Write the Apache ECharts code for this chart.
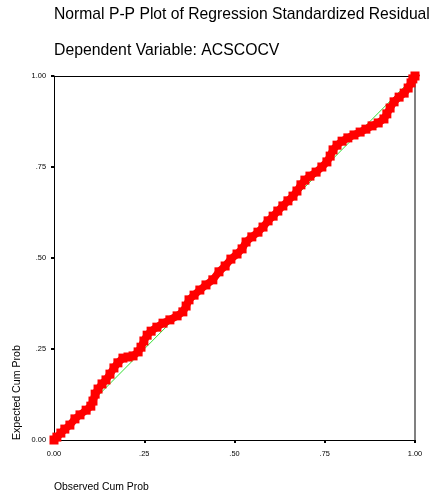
<!DOCTYPE html>
<html>
<head>
<meta charset="utf-8">
<style>
  html, body { margin: 0; padding: 0; background: #fff; }
  #chart { width: 432px; height: 495px; }
</style>
<script src="https://cdn.jsdelivr.net/npm/echarts@6/dist/echarts.min.js"></script>
</head>
<body>
<div id="chart"></div>
<script>
// Observed cumulative probability (x) and expected cumulative probability (y)
var observedCumProb = [0.000,0.008,0.019,0.030,0.044,0.058,0.072,0.089,0.102,0.108,0.114,0.122,0.133,0.144,0.155,0.166,0.177,0.191,0.205,0.219,0.233,0.241,0.249,0.258,0.269,0.285,0.302,0.321,0.341,0.357,0.366,0.374,0.388,0.404,0.421,0.440,0.457,0.474,0.490,0.507,0.521,0.532,0.548,0.565,0.579,0.593,0.607,0.620,0.634,0.648,0.662,0.673,0.684,0.695,0.709,0.726,0.742,0.756,0.765,0.773,0.784,0.798,0.814,0.831,0.848,0.864,0.881,0.898,0.914,0.922,0.931,0.942,0.956,0.970,0.981,0.989,0.994,1.000];
var expectedCumProb = [0.000,0.008,0.019,0.030,0.041,0.058,0.069,0.082,0.093,0.107,0.126,0.140,0.154,0.165,0.181,0.198,0.212,0.225,0.228,0.231,0.242,0.255,0.272,0.288,0.299,0.310,0.321,0.330,0.341,0.352,0.368,0.385,0.398,0.412,0.426,0.440,0.462,0.478,0.497,0.511,0.525,0.544,0.558,0.571,0.585,0.602,0.615,0.629,0.643,0.657,0.670,0.684,0.701,0.714,0.725,0.736,0.750,0.764,0.780,0.797,0.810,0.821,0.830,0.838,0.846,0.854,0.863,0.871,0.882,0.896,0.912,0.929,0.942,0.953,0.967,0.981,0.992,1.000];
var referenceLine = [[0, 0], [1, 1]];
var tickLabels = ['0.00', '.25', '.50', '.75', '1.00'];

var FONT = 'Liberation Sans, Arial, Helvetica, sans-serif';
var points = observedCumProb.map(function (x, i) { return [x, expectedCumProb[i]]; });
function fmt(v) { return tickLabels[Math.round(v * 4)]; }

var chart = echarts.init(document.getElementById('chart'), null, { renderer: 'canvas' });
chart.setOption({
  backgroundColor: '#ffffff',
  animation: false,
  graphic: [
    { type: 'text', left: 54, top: 7, style: { text: 'Normal P-P Plot of Regression Standardized Residual', font: '15.7px ' + FONT, fill: '#000' } },
    { type: 'text', left: 54, top: 43, style: { text: 'Dependent Variable: ACSCOCV', font: '15.8px ' + FONT, fill: '#000' } },
    { type: 'text', left: 54, top: 482, style: { text: 'Observed Cum Prob', font: '10.4px ' + FONT, fill: '#000' } },
    { type: 'text', x: 12, y: 440, rotation: Math.PI / 2, style: { text: 'Expected Cum Prob', font: '10.6px ' + FONT, fill: '#000', align: 'left', verticalAlign: 'top' } }
  ],
  grid: { left: 54, top: 76, width: 361, height: 364, containLabel: false },
  xAxis: [
    {
      type: 'value', min: 0, max: 1, interval: 0.25, position: 'bottom',
      axisLine: { show: true, onZero: false, lineStyle: { color: '#000', width: 1 } },
      axisTick: { show: true, inside: false, length: 3, lineStyle: { color: '#000', width: 2 } },
      axisLabel: { show: true, formatter: fmt, margin: 10, fontSize: 7.4, fontFamily: FONT, color: '#000', showMinLabel: true, showMaxLabel: true },
      splitLine: { show: false }
    },
    {
      type: 'value', min: 0, max: 1, position: 'top',
      axisLine: { show: true, onZero: false, lineStyle: { color: '#000', width: 1 } },
      axisTick: { show: false }, axisLabel: { show: false }, splitLine: { show: false }
    }
  ],
  yAxis: [
    {
      type: 'value', min: 0, max: 1, interval: 0.25, position: 'left',
      axisLine: { show: true, onZero: false, lineStyle: { color: '#000', width: 1 } },
      axisTick: { show: true, inside: false, length: 3, lineStyle: { color: '#000', width: 2 } },
      axisLabel: { show: true, formatter: fmt, margin: 8, fontSize: 7.4, fontFamily: FONT, color: '#000', showMinLabel: true, showMaxLabel: true },
      splitLine: { show: false }
    },
    {
      type: 'value', min: 0, max: 1, position: 'right',
      axisLine: { show: true, onZero: false, lineStyle: { color: '#808080', width: 2 } },
      axisTick: { show: false }, axisLabel: { show: false }, splitLine: { show: false }
    }
  ],
  series: [
    {
      type: 'line', data: referenceLine, xAxisIndex: 0, yAxisIndex: 0,
      showSymbol: false, symbol: 'none', silent: true,
      lineStyle: { color: '#33dd33', width: 1 }, z: 2
    },
    {
      type: 'line', data: points, xAxisIndex: 0, yAxisIndex: 0,
      symbol: 'rect', symbolSize: 9, showSymbol: true, showAllSymbol: true,
      lineStyle: { color: '#ff0000', width: 7.5, cap: 'square', join: 'round' },
      itemStyle: { color: '#ff0000', borderColor: '#ff0000', borderWidth: 0, opacity: 1 }, z: 3
    }
  ]
});
</script>
</body>
</html>
